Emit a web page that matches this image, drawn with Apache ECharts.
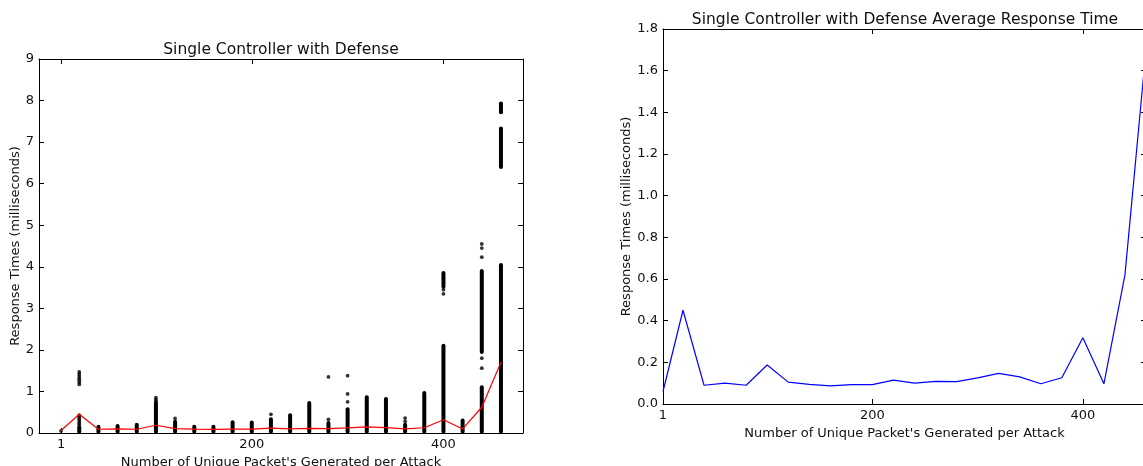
<!DOCTYPE html>
<html>
<head>
<meta charset="utf-8">
<script src="https://cdn.jsdelivr.net/npm/echarts@6/dist/echarts.min.js"></script>
<style>
  html, body { margin: 0; padding: 0; background: #fff; }
  #chart { width: 1143px; height: 466px; }
</style>
</head>
<body>
<div id="chart"></div>
<script>
// attack sizes (unique packets per attack)
var xValues = [1, 20, 40, 60, 80, 100, 120, 140, 160, 180, 200, 220, 240, 260, 280, 300, 320, 340, 360, 380, 400, 420, 440, 460];
// average response time per attack size (ms)
var avgTimes = [0.06, 0.45, 0.09, 0.10, 0.09, 0.187, 0.105, 0.094, 0.087, 0.093, 0.093, 0.115, 0.10, 0.109, 0.107, 0.125, 0.147, 0.13, 0.097, 0.126, 0.318, 0.097, 0.62, 1.70];

// dense stacks of samples: [attack size, low ms, high ms]
var sampleRuns = [
    [20, 0.03, 0.14],
    [40, 0.03, 0.15],
    [60, 0.03, 0.17],
    [80, 0.03, 0.20],
    [100, 0.03, 0.72],
    [120, 0.03, 0.27],
    [140, 0.03, 0.15],
    [160, 0.03, 0.15],
    [180, 0.03, 0.26],
    [200, 0.03, 0.25],
    [220, 0.03, 0.33],
    [240, 0.03, 0.43],
    [260, 0.03, 0.72],
    [280, 0.03, 0.24],
    [300, 0.03, 0.57],
    [320, 0.03, 0.86],
    [340, 0.03, 0.82],
    [360, 0.03, 0.20],
    [380, 0.03, 0.96],
    [400, 0.03, 2.10],
    [400, 3.52, 3.85],
    [420, 0.03, 0.30],
    [440, 0.03, 1.10],
    [440, 1.95, 3.90],
    [460, 0.03, 4.04],
    [460, 6.40, 7.33],
    [460, 7.72, 7.93]
];

// isolated samples: [attack size, ms]
var sampleDots = [
    [1, 0.05],
    [20, 1.17], [20, 1.22], [20, 1.27], [20, 1.32], [20, 1.37], [20, 1.42], [20, 1.47],
    [20, 0.19], [20, 0.23], [20, 0.27], [20, 0.31], [20, 0.35], [20, 0.39], [20, 0.43],
    [100, 0.76], [100, 0.80], [100, 0.85],
    [120, 0.35],
    [220, 0.45],
    [280, 0.33], [280, 1.35],
    [300, 0.75], [300, 0.94], [300, 1.38],
    [360, 0.28], [360, 0.36],
    [400, 3.35], [400, 3.45],
    [440, 1.56], [440, 1.80], [440, 4.23], [440, 4.45], [440, 4.55]
];

var xTicks = [1, 200, 400];
var leftYTicks = [0, 1, 2, 3, 4, 5, 6, 7, 8, 9];
var rightYTicks = [0, 0.2, 0.4, 0.6, 0.8, 1.0, 1.2, 1.4, 1.6, 1.8];

var FONT = 'DejaVu Sans';
var INK = '#111';

function xAxisFor(grid, pos, min, max, labels) {
    return {
        type: 'value', gridIndex: grid, position: pos, min: min, max: max,
        axisLine: { show: true, onZero: false, lineStyle: { color: '#000', width: 1 } },
        axisTick: { show: true, inside: true, length: 5, customValues: xTicks, lineStyle: { color: '#000' } },
        axisLabel: labels ? { show: true, customValues: xTicks, margin: 5, color: INK, fontSize: 13, fontFamily: FONT } : { show: false },
        splitLine: { show: false }
    };
}

function yAxisFor(grid, pos, min, max, ticks, labels, fmt) {
    return {
        type: 'value', gridIndex: grid, position: pos, min: min, max: max,
        axisLine: { show: true, onZero: false, lineStyle: { color: '#000', width: 1 } },
        axisTick: { show: true, inside: true, length: 5, customValues: ticks, lineStyle: { color: '#000' } },
        axisLabel: labels ? { show: true, customValues: ticks, margin: 5, color: INK, fontSize: 13, fontFamily: FONT, formatter: fmt } : { show: false },
        splitLine: { show: false }
    };
}

var xLeft = xAxisFor(0, 'bottom', -22, 483, true);
xLeft.name = "Number of Unique Packet's Generated per Attack";
xLeft.nameLocation = 'middle';
xLeft.nameGap = 19;
xLeft.nameTextStyle = { color: INK, fontSize: 13, fontFamily: FONT };

var xRight = xAxisFor(1, 'bottom', 1, 460, true);
xRight.name = "Number of Unique Packet's Generated per Attack";
xRight.nameLocation = 'middle';
xRight.nameGap = 16;
xRight.nameTextStyle = { color: INK, fontSize: 13, fontFamily: FONT };

var yLeft = yAxisFor(0, 'left', 0, 9, leftYTicks, true, function (v) { return String(v); });
yLeft.name = 'Response Times (milliseconds)';
yLeft.nameLocation = 'middle';
yLeft.nameGap = 16;
yLeft.nameTextStyle = { color: INK, fontSize: 13, fontFamily: FONT };

var yRight = yAxisFor(1, 'left', 0, 1.8, rightYTicks, true, function (v) { return v.toFixed(1); });
yRight.name = 'Response Times (milliseconds)';
yRight.nameLocation = 'middle';
yRight.nameGap = 29;
yRight.nameTextStyle = { color: INK, fontSize: 13, fontFamily: FONT };

var chart = echarts.init(document.getElementById('chart'));

var option = {
    backgroundColor: '#fff',
    animation: false,
    title: [
        { text: 'Single Controller with Defense', left: 276, top: 37, textAlign: 'center',
          textStyle: { color: INK, fontSize: 15.5, fontWeight: 'normal', fontFamily: FONT } },
        { text: 'Single Controller with Defense Average Response Time', left: 900, top: 7, textAlign: 'center',
          textStyle: { color: INK, fontSize: 15.5, fontWeight: 'normal', fontFamily: FONT } }
    ],
    grid: [
        { left: 39, right: 620, top: 59, height: 374, outerBoundsMode: 'none' },
        { left: 663, right: -3, top: 29, height: 375, outerBoundsMode: 'none' }
    ],
    xAxis: [
        xLeft,
        xAxisFor(0, 'top', -22, 483, false),
        xRight,
        xAxisFor(1, 'top', 1, 460, false)
    ],
    yAxis: [
        yLeft,
        yAxisFor(0, 'right', 0, 9, leftYTicks, false),
        yRight,
        yAxisFor(1, 'right', 0, 1.8, rightYTicks, false)
    ],
    series: [
        {
            type: 'custom',
            xAxisIndex: 0, yAxisIndex: 0,
            data: sampleRuns,
            encode: { x: 0, y: [1, 2] },
            renderItem: function (params, api) {
                var p1 = api.coord([api.value(0), api.value(1)]);
                var p2 = api.coord([api.value(0), api.value(2)]);
                return {
                    type: 'line',
                    shape: { x1: p1[0], y1: p1[1], x2: p2[0], y2: p2[1] },
                    style: { stroke: '#000', lineWidth: 4, lineCap: 'round' }
                };
            },
            z: 2
        },
        {
            type: 'scatter',
            xAxisIndex: 0, yAxisIndex: 0,
            data: sampleDots,
            symbolSize: 3.8,
            itemStyle: { color: '#000' },
            z: 2
        },
        {
            type: 'line',
            xAxisIndex: 0, yAxisIndex: 0,
            data: xValues.map(function (x, i) { return [x, avgTimes[i]]; }),
            showSymbol: false,
            lineStyle: { color: '#ff0000', width: 1.2 },
            z: 3
        },
        {
            type: 'line',
            xAxisIndex: 2, yAxisIndex: 2,
            data: xValues.map(function (x, i) { return [x, avgTimes[i]]; }),
            showSymbol: false,
            clip: true,
            lineStyle: { color: '#0000ff', width: 1.2 },
            z: 3
        }
    ]
};

chart.setOption(option);
</script>
</body>
</html>
